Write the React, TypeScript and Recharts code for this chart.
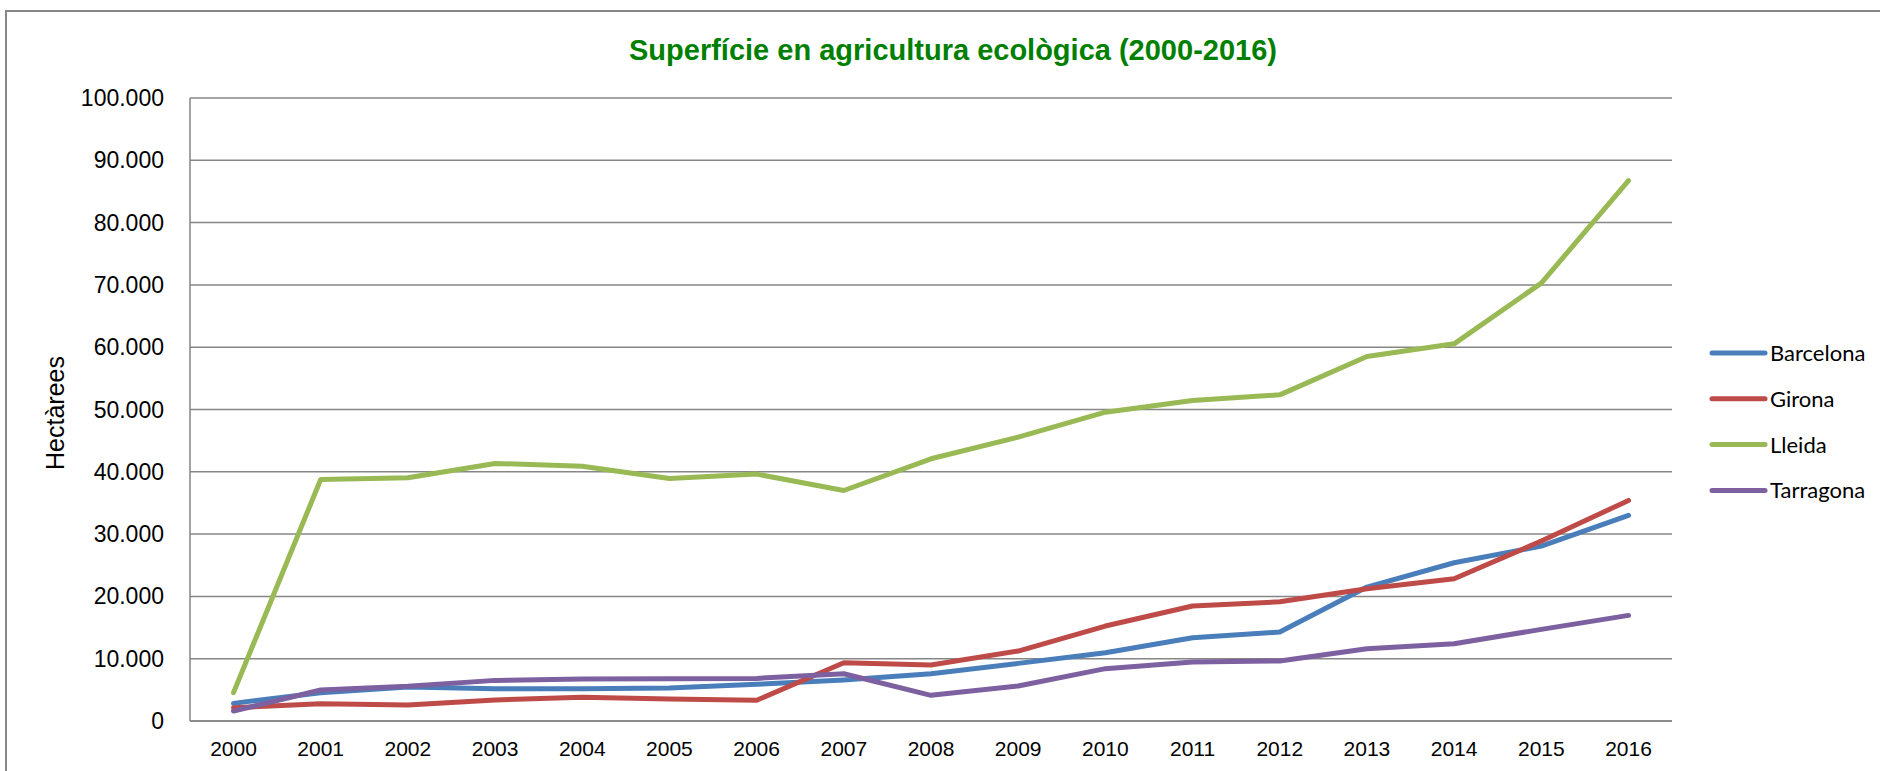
import { LineChart, Line, XAxis, YAxis, CartesianGrid, Legend } from "recharts";

const YEARS = [
  "2000", "2001", "2002", "2003", "2004", "2005", "2006", "2007", "2008",
  "2009", "2010", "2011", "2012", "2013", "2014", "2015", "2016",
];
const BARCELONA = [2830, 4550, 5450, 5190, 5190, 5290, 5880, 6580, 7590, 9250, 10960, 13370, 14280, 21500, 25400, 28070, 33000];
const GIRONA = [2140, 2780, 2570, 3370, 3800, 3530, 3320, 9360, 8980, 11230, 15240, 18450, 19140, 21230, 22830, 28880, 35400];
const LLEIDA = [4550, 38770, 39040, 41340, 40900, 38930, 39630, 37000, 42090, 45560, 49570, 51440, 52350, 58500, 60540, 70290, 86720];
const TARRAGONA = [1600, 4970, 5560, 6520, 6740, 6790, 6840, 7590, 4120, 5610, 8400, 9470, 9630, 11600, 12400, 14710, 16950];
const Y_TICKS = [0, 10000, 20000, 30000, 40000, 50000, 60000, 70000, 80000, 90000, 100000];

const SERIES = [
  { name: "Barcelona", color: "#4A7EBB", values: BARCELONA },
  { name: "Girona", color: "#BE4B48", values: GIRONA },
  { name: "Lleida", color: "#98B954", values: LLEIDA },
  { name: "Tarragona", color: "#7D60A0", values: TARRAGONA },
];

const data = YEARS.map((year, i) => {
  const row: Record<string, string | number> = { year };
  SERIES.forEach((s) => (row[s.name] = s.values[i]));
  return row;
});

const GRID = "#868686";
const FONT = "'Liberation Sans', Arial, sans-serif";

const fmt = (v: number) => (v === 0 ? "0" : `${v / 1000}.000`);

const XTick = ({ x, payload }: any) => (
  <text x={x} y={756} textAnchor="middle" fontFamily={FONT} fontSize={21} fill="#000">
    {payload.value}
  </text>
);

const YTick = ({ y, payload }: any) => (
  <text x={164} y={y + 8} textAnchor="end" fontFamily={FONT} fontSize={23} fill="#000">
    {fmt(payload.value)}
  </text>
);

const LegendBox = () => (
  <svg width={175} height={190}>
    {SERIES.map((s, i) => {
      const cy = 18 + i * 45.8;
      return (
        <g key={s.name}>
          <line x1={9} x2={62} y1={cy} y2={cy} stroke={s.color} strokeWidth={5} strokeLinecap="round" />
          <text x={67} y={cy + 8} fontFamily="Lato, 'Open Sans', sans-serif" fontSize={22} fill="#000">
            {s.name}
          </text>
        </g>
      );
    })}
  </svg>
);

export default function App() {
  return (
    <div
      style={{
        position: "absolute",
        left: 0,
        top: 0,
        width: 1880,
        height: 771,
        background: "#fff",
        overflow: "hidden",
      }}
    >
      <div
        style={{
          position: "absolute",
          left: 5,
          top: 10,
          width: 1900,
          height: 800,
          border: `2px solid ${GRID}`,
          boxSizing: "border-box",
        }}
      />
      <LineChart
        width={1880}
        height={771}
        data={data}
        margin={{ top: 98, right: 208, bottom: 10, left: 0 }}
      >
        <CartesianGrid vertical={false} stroke={GRID} strokeWidth={1.5} />
        <XAxis
          dataKey="year"
          height={40}
          padding={{ left: 43.5, right: 43.5 }}
          axisLine={{ stroke: GRID, strokeWidth: 1.5 }}
          tickLine={false}
          tick={<XTick />}
          interval={0}
        />
        <YAxis
          width={190}
          domain={[0, 100000]}
          ticks={Y_TICKS}
          interval={0}
          axisLine={{ stroke: GRID, strokeWidth: 1.5 }}
          tickLine={false}
          tick={<YTick />}
        />
        <Legend
          layout="vertical"
          align="center"
          verticalAlign="middle"
          content={<LegendBox />}
          wrapperStyle={{ left: 1703, top: 335, width: 175, height: 190 }}
        />
        {SERIES.map((s) => (
          <Line
            key={s.name}
            type="linear"
            dataKey={s.name}
            stroke={s.color}
            strokeWidth={5}
            strokeLinecap="round"
            strokeLinejoin="round"
            dot={false}
            activeDot={false}
            isAnimationActive={false}
          />
        ))}
      </LineChart>
      <svg
        width={1880}
        height={771}
        style={{ position: "absolute", left: 0, top: 0, pointerEvents: "none" }}
      >
        <text
          x={953}
          y={60}
          textAnchor="middle"
          fontFamily={FONT}
          fontWeight="bold"
          fontSize={29}
          fill="#008000"
        >
          Superfície en agricultura ecològica (2000-2016)
        </text>
        <text
          x={64}
          y={413}
          transform="rotate(-90, 64, 413)"
          textAnchor="middle"
          fontFamily={FONT}
          fontSize={25}
          fill="#000"
        >
          Hectàrees
        </text>
      </svg>
    </div>
  );
}
